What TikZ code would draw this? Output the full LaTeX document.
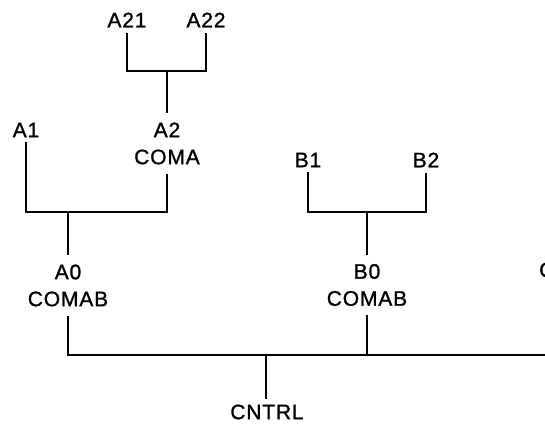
\documentclass[tikz,border=0pt]{standalone}
\usepackage{fontspec}
\newfontfamily\signalfont[LetterSpace=4, FakeBold=1.2]{Liberation Sans}
\usetikzlibrary{calc}
\tikzstyle{leaf}=[font=\signalfont\fontsize{21}{27}\selectfont, inner xsep=2pt, inner ysep=5pt]
\tikzstyle{unit}=[font=\signalfont\fontsize{21}{27}\selectfont, align=center, inner xsep=2pt, inner ysep=9pt]
\tikzstyle{wire} = [draw, line width=2pt]

\begin{document}
\begin{tikzpicture}[x=1pt, y=-1pt]
    \useasboundingbox (0,0) rectangle (545,423);

    % signal names
    \foreach \pos/ \name/ \txt in {{(127,20)/a21/A21}, {(206,20)/a22/A22}, {(26,130)/a1/A1}, {(308,160)/b1/B1}, {(426,160)/b2/B2}, {(267,412)/cntrl/CNTRL}}
        \node[leaf] (\name) at \pos {\txt};

    % units with their command line
    \foreach \pos/ \name/ \ta/ \tb in {{(167,143.5)/a2/A2/COMA}, {(68,285.5)/a0/A0/COMAB}, {(367,285)/b0/B0/COMAB}}
        \node[unit] (\name) at \pos {\ta\\\tb};

    \node[leaf, anchor=west, inner xsep=0pt] (c0) at (539,270) {C};

    \coordinate (ja2) at (167,71);
    \coordinate (ja0) at (68,212);
    \coordinate (jb0) at (367,212);
    \coordinate (jbus) at (266,355);
    \coordinate (busend) at (545,355);

    % forks
    \foreach \parent/ \lt/ \rt/ \join in {a2/a21/a22/ja2, a0/a1/a2/ja0, b0/b1/b2/jb0}
    {
        \path[wire] (\lt.south) |- (\join) -| (\rt.south);
        \path[wire] (\join) -- (\parent.north);
    }

    % bus to CNTRL
    \path[wire] (a0.south) |- (busend);
    \path[wire] (b0.south) -- (b0.south |- busend);
    \path[wire] (jbus) -- (jbus |- cntrl.north);

\end{tikzpicture}
\end{document}
